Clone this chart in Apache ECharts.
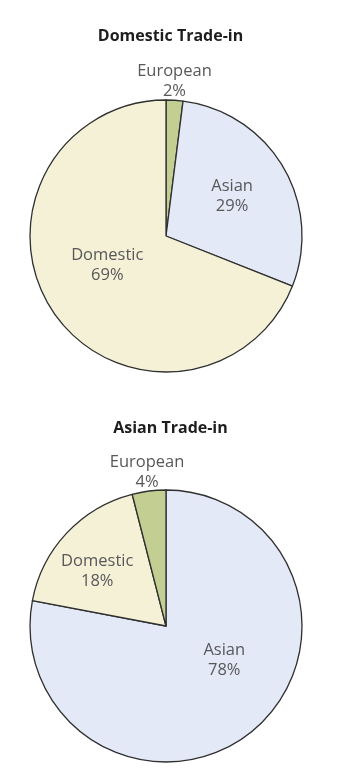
<!DOCTYPE html>
<html>
<head>
<meta charset="utf-8">
<script src="https://cdn.jsdelivr.net/npm/echarts@6/dist/echarts.min.js"></script>
<style>
html,body{margin:0;padding:0;background:#fff;}
#c{width:341px;height:777px;}
</style>
</head>
<body>
<div id="c"></div>
<script>
// Data
const chartTitles = ['Domestic Trade-in', 'Asian Trade-in'];
const domesticCategories = ['European', 'Asian', 'Domestic'];
const domesticValues = [2, 29, 69];
const asianCategories = ['Asian', 'Domestic', 'European'];
const asianValues = [78, 18, 4];

const colorMap = { European: '#c3ce93', Asian: '#e3e9f6', Domestic: '#f5f1d7' };

// label nudges (style only)
const labelShift = [
  [[4, -84], [5, -4], [0, -11]],
  [[13, -20], [-17, -6], [-10, -83]]
];

function build(cats, vals) {
  return cats.map((c, i) => ({ name: c, value: vals[i], itemStyle: { color: colorMap[c] } }));
}

const fontFam = '"Open Sans", "Liberation Sans", sans-serif';
const chart = echarts.init(document.getElementById('c'), null, { renderer: 'canvas' });

function makePie(idx, center, data) {
  return {
    type: 'pie',
    radius: 136,
    center: center,
    startAngle: 90,
    clockwise: true,
    animation: false,
    silent: true,
    data: data,
    itemStyle: { borderColor: '#2f2f2f', borderWidth: 1.3 },
    label: {
      show: true,
      position: 'inside',
      formatter: '{b}\n{c}%',
      color: '#58585a',
      fontSize: 16.5,
      lineHeight: 20,
      fontFamily: fontFam,
      align: 'center'
    },
    labelLine: { show: false },
    emphasis: { disabled: true },
    labelLayout: function (p) {
      const s = labelShift[idx][p.dataIndex];
      return { dx: s[0], dy: s[1] };
    }
  };
}

chart.setOption({
  backgroundColor: '#ffffff',
  title: [
    { text: chartTitles[0], left: 'center', top: 23, textStyle: { fontSize: 16, fontWeight: 'bold', color: '#1e1e1e', fontFamily: fontFam } },
    { text: chartTitles[1], left: 'center', top: 415, textStyle: { fontSize: 16, fontWeight: 'bold', color: '#1e1e1e', fontFamily: fontFam } }
  ],
  series: [
    makePie(0, [166, 236], build(domesticCategories, domesticValues)),
    makePie(1, [166, 626], build(asianCategories, asianValues))
  ]
});
</script>
</body>
</html>
